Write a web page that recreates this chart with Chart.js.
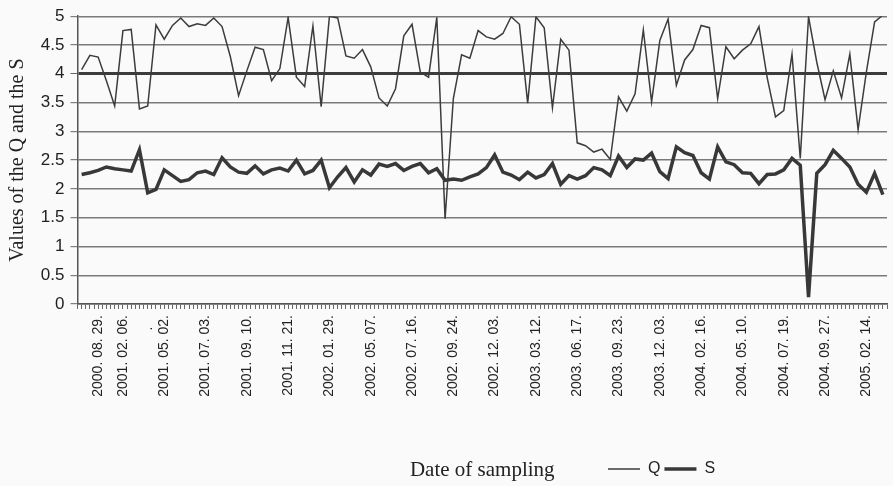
<!DOCTYPE html>
<html>
<head>
<meta charset="utf-8">
<script src="https://cdn.jsdelivr.net/npm/chart.js@4.4.1/dist/chart.umd.min.js"></script>
<style>
  html, body { margin: 0; padding: 0; background: #fafafa; }
  #wrap { position: relative; width: 893px; height: 486px; }
</style>
</head>
<body>
<div id="wrap"><canvas id="chart" width="893" height="486"></canvas></div>
<script>
// Q values per sampling date
const qValues = [
  4.07, 4.32, 4.29, 3.88, 3.44, 4.75, 4.77, 3.39, 3.44, 4.85,
  4.60, 4.84, 4.97, 4.82, 4.87, 4.84, 4.97, 4.82, 4.30, 3.62,
  4.05, 4.46, 4.42, 3.88, 4.09, 4.98, 3.94, 3.78, 4.83, 3.43,
  5.00, 4.97, 4.31, 4.27, 4.42, 4.12, 3.58, 3.44, 3.74, 4.66,
  4.86, 4.03, 3.94, 4.98, 1.48, 3.57, 4.33, 4.27, 4.75, 4.64,
  4.60, 4.70, 4.99, 4.86, 3.49, 4.99, 4.80, 3.41, 4.60, 4.41,
  2.80, 2.75, 2.64, 2.69, 2.51, 3.60, 3.35, 3.65, 4.76, 3.51,
  4.58, 4.95, 3.80, 4.24, 4.42, 4.84, 4.80, 3.57, 4.47, 4.26,
  4.41, 4.52, 4.82, 3.93, 3.25, 3.36, 4.34, 2.53, 4.99, 4.20,
  3.55, 4.05, 3.58, 4.34, 3.03, 4.03, 4.90, 5.02
];

// S values per sampling date
const sValues = [
  2.25, 2.28, 2.32, 2.38, 2.35, 2.33, 2.31, 2.68, 1.93, 1.99,
  2.33, 2.23, 2.13, 2.16, 2.28, 2.31, 2.25, 2.54, 2.38, 2.29,
  2.27, 2.40, 2.26, 2.33, 2.36, 2.31, 2.50, 2.26, 2.32, 2.50,
  2.02, 2.21, 2.37, 2.12, 2.33, 2.24, 2.43, 2.39, 2.44, 2.32,
  2.39, 2.44, 2.28, 2.35, 2.15, 2.17, 2.15, 2.21, 2.26, 2.37,
  2.59, 2.29, 2.24, 2.16, 2.29, 2.19, 2.25, 2.44, 2.08, 2.23,
  2.17, 2.23, 2.37, 2.33, 2.23, 2.57, 2.37, 2.52, 2.50, 2.62,
  2.30, 2.18, 2.73, 2.63, 2.58, 2.28, 2.17, 2.73, 2.47, 2.42,
  2.28, 2.27, 2.09, 2.25, 2.26, 2.33, 2.53, 2.41, 0.12, 2.27,
  2.42, 2.67, 2.53, 2.38, 2.08, 1.94, 2.27, 1.90
];

// Sampling dates written under the axis, and the sample they sit under
const dateLabelIndex = [2, 5, 8, 10, 15, 20, 25, 30, 35, 40, 45, 50, 55, 60, 65, 70, 75, 80, 85, 90, 95];
const dateLabelText = [
  '2000. 08. 29.', '2001. 02. 06.', '.   ', '2001. 05. 02.', '2001. 07. 03.',
  '2001. 09. 10.', '2001. 11. 21.', '2002. 01. 29.', '2002. 05. 07.',
  '2002. 07. 16.', '2002. 09. 24.', '2002. 12. 03.', '2003. 03. 12.',
  '2003. 06. 17.', '2003. 09. 23.', '2003. 12. 03.', '2004. 02. 16.',
  '2004. 05. 10.', '2004. 07. 19.', '2004. 09. 27.', '2005. 02. 14.'
];

// One category per sample; only some of them carry a date
const categories = qValues.map((_, i) => {
  const k = dateLabelIndex.indexOf(i);
  return k >= 0 ? dateLabelText[k] : '';
});
// Tick marks sit on every sample and on every boundary between samples
const tickSlots = Array(categories.length * 2 + 1).fill('');

const sansFont = "'Liberation Sans', Arial, sans-serif";
const serifFont = "'Liberation Serif', 'Times New Roman', serif";

// Puts the legend on the same row as the axis title, to its right
const legendPlacement = {
  id: 'legendPlacement',
  afterLayout(chart) {
    const lg = chart.legend;
    if (!lg) return;
    const left = 604, top = 457, rowHeight = 34;
    lg.left = left; lg.right = left + lg.width;
    lg.top = top; lg.bottom = top + rowHeight; lg.height = rowHeight;
  }
};

new Chart(document.getElementById('chart'), {
  type: 'line',
  data: {
    labels: categories,
    datasets: [
      {
        label: 'Q',
        data: qValues,
        borderColor: '#3c3c3c',
        backgroundColor: '#3c3c3c',
        borderWidth: 1.5,
        pointRadius: 0,
        tension: 0,
        xAxisID: 'x'
      },
      {
        label: 'S',
        data: sValues,
        borderColor: '#383838',
        backgroundColor: '#383838',
        borderWidth: 3.5,
        pointRadius: 0,
        tension: 0,
        xAxisID: 'x'
      }
    ]
  },
  options: {
    responsive: false,
    animation: false,
    devicePixelRatio: 1,
    layout: { padding: { top: 13, left: 4, right: 6, bottom: 3 } },
    plugins: {
      tooltip: { enabled: false },
      legend: {
        display: true,
        position: 'bottom',
        align: 'start',
        maxHeight: 1,
        labels: {
          boxWidth: 32,
          boxHeight: 0,
          padding: 4,
          color: '#222',
          font: { family: sansFont, size: 16 }
        }
      }
    },
    scales: {
      x: {
        type: 'category',
        position: 'bottom',
        weight: 1,
        offset: true,
        grid: { display: false, drawTicks: false },
        border: { display: false },
        ticks: {
          autoSkip: false,
          minRotation: 90,
          maxRotation: 90,
          padding: 6,
          color: '#222',
          font: { family: sansFont, size: 14 }
        },
        title: {
          display: true,
          text: 'Date of sampling',
          color: '#222',
          font: { family: serifFont, size: 21 },
          padding: { top: 0, bottom: -1 }
        },
        afterFit(scale) {
          scale.height = 173;
          scale.paddingLeft = 0;
          scale.paddingRight = 0;
        }
      },
      xt: {
        type: 'category',
        labels: tickSlots,
        position: 'bottom',
        weight: 0,
        offset: false,
        grid: {
          display: true,
          drawOnChartArea: false,
          drawTicks: true,
          tickLength: 5,
          color: '#666',
          lineWidth: 1
        },
        border: { display: true, color: '#555', width: 1.5 },
        ticks: { display: false, autoSkip: false }
      },
      y: {
        min: 0,
        max: 5,
        ticks: {
          stepSize: 0.5,
          padding: 6,
          color: '#222',
          font: { family: sansFont, size: 17 },
          callback: (v) => String(v)
        },
        grid: {
          color: (ctx) => ctx.tick && ctx.tick.value === 4 ? '#3c3c3c' : '#7a7a7a',
          lineWidth: (ctx) => ctx.tick && ctx.tick.value === 4 ? 3 : 1.4,
          tickLength: 7,
          tickColor: '#666',
          tickWidth: 1
        },
        border: { display: true, color: '#555', width: 1.5 },
        title: {
          display: true,
          text: 'Values of the Q and the S',
          color: '#222',
          font: { family: serifFont, size: 20 },
          padding: { top: 2, bottom: 6 }
        },
        afterFit(scale) {
          scale.width = 73.5;
        }
      }
    }
  },
  plugins: [legendPlacement]
});
</script>
</body>
</html>
